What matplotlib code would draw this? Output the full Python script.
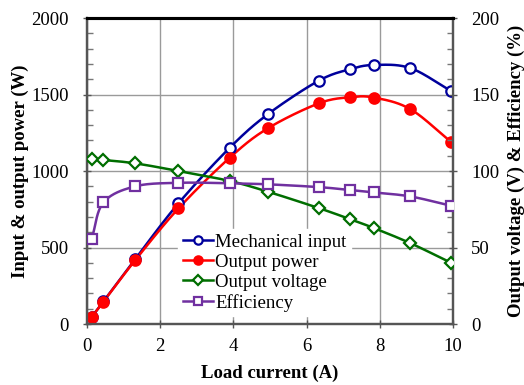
import numpy as np
import matplotlib
matplotlib.use("Agg")
import matplotlib.pyplot as plt
from matplotlib.lines import Line2D
from matplotlib.ticker import MultipleLocator

plt.rcParams['font.family'] = ['Liberation Serif', 'DejaVu Serif']
plt.rcParams['mathtext.fontset'] = 'stix'

load_current = [0.13, 0.45, 1.32, 2.5, 3.9, 4.94, 6.33, 7.18, 7.84, 8.83, 9.95]
mech_input = [46, 148, 425, 789, 1152, 1371, 1590, 1665, 1693, 1673, 1523]
output_power = [46, 146, 418, 756, 1087, 1279, 1442, 1482, 1480, 1405, 1190]
output_voltage = [107.6, 107.2, 105.0, 100.0, 93.5, 86.5, 75.8, 68.6, 62.7, 52.9, 40.0]
efficiency = [55.7, 79.5, 90.0, 92.3, 92.0, 91.3, 89.5, 87.6, 86.0, 83.4, 77.3]

labels = ["Mechanical input", "Output power", "Output voltage", "Efficiency"]
colors = ["#00009c", "#ff0000", "#006e00", "#7030a0"]


def smooth(x, y, n=20):
    x = np.asarray(x, float)
    y = np.asarray(y, float)
    px = np.concatenate([[2 * x[0] - x[1]], x, [2 * x[-1] - x[-2]]])
    py = np.concatenate([[2 * y[0] - y[1]], y, [2 * y[-1] - y[-2]]])
    xs, ys = [], []
    for i in range(1, len(px) - 2):
        t = np.linspace(0, 1, n, endpoint=False)
        p0, p1, p2, p3 = (np.array([px[j], py[j]]) for j in range(i - 1, i + 3))
        tt = t[:, None]
        pts = 0.5 * ((2 * p1) + (-p0 + p2) * tt + (2 * p0 - 5 * p1 + 4 * p2 - p3) * tt ** 2
                     + (-p0 + 3 * p1 - 3 * p2 + p3) * tt ** 3)
        xs.extend(pts[:, 0]); ys.extend(pts[:, 1])
    xs.append(x[-1]); ys.append(y[-1])
    return np.array(xs), np.array(ys)


fig = plt.figure(figsize=(5.24, 3.85), dpi=100)
ax = fig.add_axes([0.166, 0.1584, 0.6985, 0.7948])
ax2 = ax.twinx()

lw = 1.8
ms = 7.5
mew = 1.6

for yv, c, m, fc in [(mech_input, colors[0], 'o', 'white'),
                     (output_power, colors[1], 'o', colors[1])]:
    sx, sy = smooth(load_current, yv)
    ax.plot(sx, sy, color=c, lw=lw, zorder=3)
    ax.plot(load_current, yv, ls='none', marker=m, ms=ms, mfc=fc, mec=c, mew=mew, zorder=4)

for yv, c, m, msz in [(output_voltage, colors[2], 'D', ms * 0.8),
                      (efficiency, colors[3], 's', ms * 0.95)]:
    sx, sy = smooth(load_current, yv)
    ax2.plot(sx, sy, color=c, lw=lw, zorder=3)
    ax2.plot(load_current, yv, ls='none', marker=m, ms=msz, mfc='white', mec=c, mew=mew, zorder=4)

ax.set_xlim(0, 10)
ax.set_ylim(0, 2000)
ax2.set_ylim(0, 200)
ax.xaxis.set_major_locator(MultipleLocator(2))
ax.yaxis.set_major_locator(MultipleLocator(500))
ax.yaxis.set_minor_locator(MultipleLocator(100))
ax2.yaxis.set_major_locator(MultipleLocator(50))
ax2.yaxis.set_minor_locator(MultipleLocator(10))
ax.grid(True, which='major', color='#9a9a9a', lw=1.0)
ax.set_axisbelow(True)

fs = 13.5
ax.tick_params(axis='both', which='major', labelsize=fs, direction='inout', length=6, width=1.0, color='#555555')
ax.tick_params(axis='y', which='minor', direction='in', length=4, width=1.0, color='#777777')
ax2.tick_params(axis='y', which='major', labelsize=fs, direction='inout', length=6, width=1.0, color='#555555')
ax2.tick_params(axis='y', which='minor', direction='in', length=4, width=1.0, color='#777777')
ax.tick_params(axis='y', which='major', pad=10)
ax2.tick_params(axis='y', which='major', pad=10)
ax.tick_params(axis='x', pad=7)

for a in (ax, ax2):
    a.spines['top'].set_color('black')
    a.spines['top'].set_linewidth(2.2)
    a.spines['bottom'].set_color('#555555')
    a.spines['bottom'].set_linewidth(1.6)
    a.spines['left'].set_color('#555555')
    a.spines['left'].set_linewidth(1.6)
    a.spines['right'].set_color('#555555')
    a.spines['right'].set_linewidth(1.6)

ax.set_xlabel("Load current (A)", fontsize=fs, fontweight='bold', labelpad=7)
ax.set_ylabel("Input & output power (W)", fontsize=fs, fontweight='bold', labelpad=2)
ax2.set_ylabel("Output voltage (V) & Efficiency (%)", fontsize=fs, fontweight='bold', labelpad=6)

handles = [
    Line2D([], [], color=colors[0], lw=lw, marker='o', ms=ms * 0.8, mfc='white', mec=colors[0], mew=mew),
    Line2D([], [], color=colors[1], lw=lw, marker='o', ms=ms * 0.8, mfc=colors[1], mec=colors[1], mew=mew),
    Line2D([], [], color=colors[2], lw=lw, marker='D', ms=ms * 0.65, mfc='white', mec=colors[2], mew=mew),
    Line2D([], [], color=colors[3], lw=lw, marker='s', ms=ms * 0.75, mfc='white', mec=colors[3], mew=mew),
]
leg = ax2.legend(handles, labels, loc='upper left', bbox_to_anchor=(0.25, 0.31), fontsize=fs,
                 frameon=True, framealpha=1.0, edgecolor='white', fancybox=False,
                 handlelength=1.6, handletextpad=0.1, labelspacing=0.15, borderpad=0.25,
                 borderaxespad=0)
leg.set_zorder(10)

fig.savefig("out.png", dpi=100)
